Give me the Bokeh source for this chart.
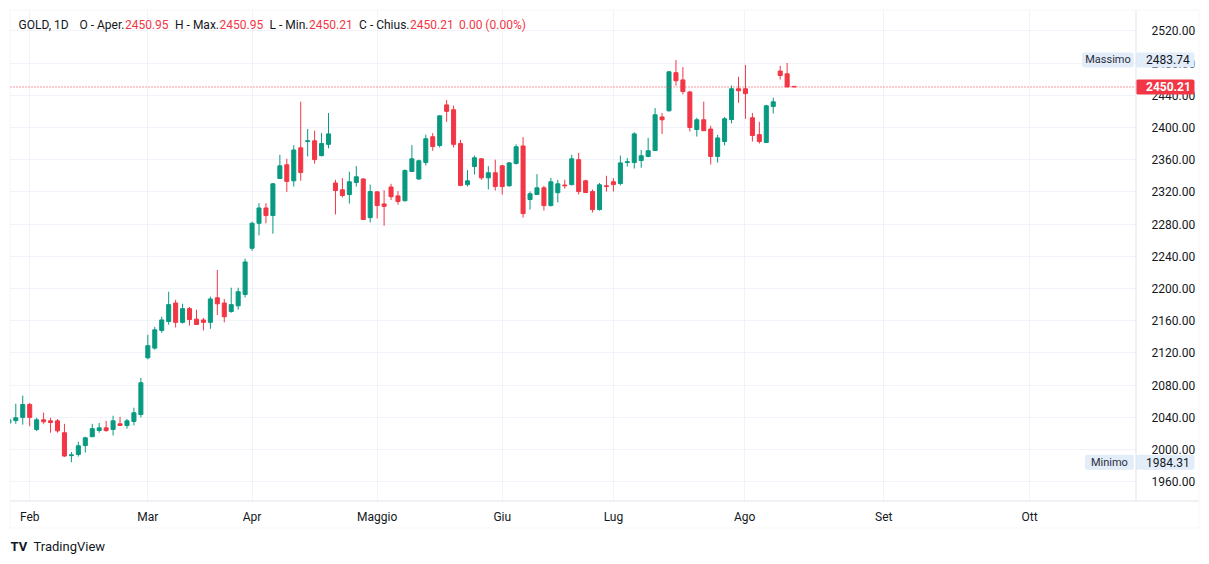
from bokeh.plotting import figure
from bokeh.models import (Range1d, FixedTicker, Label, BoxAnnotation,
                          ColumnDataSource, NumeralTickFormatter)
from bokeh.embed import file_html
from bokeh.resources import INLINE

# ---------------- data ----------------
symbol = "GOLD"
timeframe = "1D"
bar_index = list(range(-1, 113))
open_ = [2033, 2036, 2040, 2056, 2025, 2037, 2035.7, 2035.7, 2021, 1992.5,
         1994, 2005, 2016, 2023.7, 2027, 2025, 2032, 2030, 2035, 2043.6,
         2114, 2126, 2148, 2159, 2182, 2158, 2175, 2162, 2161, 2158,
         2188.5, 2182, 2171.4, 2178.5, 2192.6, 2250, 2281, 2300, 2290.6, 2336.6,
         2353.6, 2333.7, 2374.7, 2382.5, 2383.4, 2365, 2379, 2331, 2322.5, 2316.7,
         2331.6, 2336, 2288, 2320, 2305, 2326, 2315, 2309, 2345.3, 2336,
         2356.4, 2388.4, 2377.6, 2428, 2422, 2380, 2329, 2351.5, 2361, 2337.4,
         2343.7, 2352.3, 2327.5, 2355.2, 2377, 2310.5, 2316.7, 2325, 2303, 2319,
         2328.5, 2329, 2360, 2333.7, 2320.4, 2298, 2327.6, 2332.5, 2330.4, 2356.5,
         2356.4, 2359, 2364, 2371.3, 2413, 2420.6, 2468, 2459, 2444, 2397.4,
         2409.5, 2398, 2364, 2382.5, 2409.8, 2448, 2448, 2412, 2391, 2381.3,
         2426, 2470, 2466.6, 2450.95]
high = [2040, 2057, 2067, 2058, 2039.5, 2046, 2039.5, 2038, 2032, 1997,
        2009.7, 2016, 2032, 2033, 2035.7, 2042, 2040.7, 2038, 2052, 2089,
        2142.5, 2152.4, 2165, 2196, 2186, 2181, 2177, 2173.6, 2163.6, 2190,
        2223, 2187, 2201, 2201, 2237, 2283, 2306, 2306, 2331, 2366,
        2361, 2378, 2432, 2398, 2396, 2393, 2418, 2335, 2337, 2345,
        2352, 2337, 2329, 2321, 2322, 2330, 2321, 2348, 2378, 2360,
        2391, 2393, 2415, 2434, 2427, 2384.6, 2347, 2365, 2362, 2352,
        2360, 2353.6, 2357, 2379, 2388, 2320.4, 2342, 2327.5, 2337.4, 2335,
        2335, 2366, 2368.5, 2335, 2323, 2331, 2340, 2337, 2365, 2362,
        2394, 2372, 2387, 2424, 2418, 2470, 2483.74, 2475, 2445.5, 2412,
        2432, 2402, 2391, 2413, 2452, 2463, 2477.7, 2418, 2407, 2428,
        2437, 2476.5, 2480, 2450.95]
low = [2031, 2032, 2031, 2029, 2023, 2032, 2021, 2021, 1991, 1984.31,
       1991.4, 1996.4, 2016, 2021, 2022, 2017.5, 2029.5, 2026, 2030, 2040,
       2112, 2124, 2145, 2155, 2151.6, 2156.5, 2154, 2155, 2148, 2150,
       2167, 2158, 2170, 2173.6, 2189, 2247, 2266, 2281, 2268, 2336,
       2320, 2326.6, 2334, 2364, 2355, 2364, 2374, 2292, 2313, 2305.5,
       2326.6, 2285, 2282, 2287, 2278, 2310, 2304, 2308, 2345, 2335,
       2352.7, 2371, 2375, 2407, 2375, 2327, 2326.6, 2341.5, 2335, 2323,
       2321.7, 2316.7, 2326.6, 2354, 2288, 2298, 2316, 2296.8, 2301.8, 2306.8,
       2324, 2328, 2316.7, 2319, 2294.4, 2296.8, 2320.4, 2320.4, 2328, 2351.5,
       2349, 2350, 2363, 2371, 2392, 2420, 2452, 2441, 2395, 2388.7,
       2396, 2354, 2356.4, 2377.6, 2405, 2430.6, 2410.7, 2382.5, 2380, 2381,
       2417.3, 2459.5, 2450.21, 2450.21]
close = [2037, 2039.5, 2056, 2040, 2037, 2034.5, 2033.6, 2023.3, 1992, 1993.5,
         2004.7, 2014.6, 2026, 2027, 2023.7, 2035.7, 2030, 2035.7, 2045.7, 2083,
         2129, 2148.7, 2161, 2180, 2158, 2175, 2161.5, 2155.3, 2158, 2187,
         2181, 2165, 2180, 2196, 2233, 2281, 2300, 2290.6, 2330, 2352.3,
         2333, 2372, 2344, 2383.5, 2360, 2380, 2392, 2321.7, 2315.5, 2332.5,
         2338.7, 2285.7, 2320.4, 2303, 2302, 2314, 2308, 2346.5, 2361, 2358.6,
         2386, 2376.3, 2414.4, 2420, 2379, 2328, 2333.7, 2362.3, 2337.4, 2343.7,
         2326.6, 2326.6, 2356, 2376, 2293, 2317.6, 2325, 2303, 2332.5, 2330,
         2327.5, 2361, 2320.4, 2319.2, 2298, 2328.8, 2326.6, 2329, 2356, 2357.5,
         2392, 2364.8, 2371, 2415.7, 2409.5, 2469, 2458, 2444.6, 2400, 2409.5,
         2396, 2364, 2387, 2410.7, 2448, 2445.5, 2442, 2390, 2382.5, 2426.8,
         2431.8, 2464.5, 2450.21, 2450.21]

month_labels = ["Feb", "Mar", "Apr", "Maggio", "Giu", "Lug", "Ago", "Set", "Ott"]
month_ticks = [2, 19, 34, 52, 70, 86, 104.9, 124.9, 145.9]
price_ticks = list(range(1960, 2521, 40))

# ---------------- style / layout ----------------
GREEN = "#089981"
RED = "#F23645"
TEXT = "#131722"
GRID = "#F0F3FA"
BORDER = "#E0E3EB"
TAG = "#E3ECF9"
FONT = "Roboto"
W, H = 1209, 564

PX0, PXS = 15.3, 6.949            # pixel of bar 0, pixels per bar
Y_HI, YPP = 2545.19, 1.2416       # value at pixel row 10, value per pixel


def sx(px):
    return (px - PX0) / PXS


def sy(py):
    return Y_HI - (py - 10) * YPP


p = figure(width=W, height=H, output_backend="svg", toolbar_location=None,
           x_range=Range1d(sx(0), sx(W)), y_range=Range1d(sy(H), sy(0)),
           y_axis_location="right", min_border=0)
p.background_fill_color = "white"
p.border_fill_color = "white"
p.outline_line_color = None

p.xgrid.ticker = FixedTicker(ticks=month_ticks)
p.ygrid.ticker = FixedTicker(ticks=price_ticks)
p.grid.grid_line_color = GRID
p.grid.grid_line_width = 1

p.yaxis.ticker = FixedTicker(ticks=price_ticks)
p.yaxis.formatter = NumeralTickFormatter(format="0.00")
p.yaxis.major_tick_line_color = None
p.yaxis.minor_tick_line_color = None
p.yaxis.axis_line_color = None
p.yaxis.major_label_standoff = -64
p.yaxis.major_label_text_font = FONT
p.yaxis.major_label_text_font_size = "12px"
p.yaxis.major_label_text_color = TEXT

p.xaxis.ticker = FixedTicker(ticks=month_ticks)
p.xaxis.major_label_overrides = {t: l for t, l in zip(month_ticks, month_labels)}
p.xaxis.major_tick_line_color = None
p.xaxis.minor_tick_line_color = None
p.xaxis.axis_line_color = None
p.xaxis.major_label_standoff = -61
p.xaxis.major_label_text_font = FONT
p.xaxis.major_label_text_font_size = "12px"
p.xaxis.major_label_text_color = TEXT

# white covers keep grid lines inside the pane only
for l, r, t, b in ((1135.5, W, 0, H), (0, W, 500.5, H), (0, W, 0, 9.5)):
    p.add_layout(BoxAnnotation(left=sx(l), right=sx(r), top=sy(t), bottom=sy(b),
                               fill_color="white", fill_alpha=1, line_color=None,
                               level="underlay"))

# ---------------- candles ----------------
colors = [GREEN if c >= o else RED for o, c in zip(open_, close)]
src = ColumnDataSource(dict(
    x=bar_index, o=open_, h=high, l=low, c=close,
    top=[max(o, c) for o, c in zip(open_, close)],
    bottom=[min(o, c) for o, c in zip(open_, close)],
    color=colors))
p.segment(x0="x", y0="l", x1="x", y1="h", line_color="color", line_width=1, source=src)
p.vbar(x="x", width=0.58, top="top", bottom="bottom", fill_color="color",
       line_color="color", line_width=1, source=src)

last = close[-1]
p.segment(x0=[sx(10)], y0=[last], x1=[sx(1135)], y1=[last], line_color=RED,
          line_dash="1 2", line_width=1)

# left margin cover (bars scrolled off the pane) and frame lines
p.add_layout(BoxAnnotation(left=sx(0), right=sx(9.5), top=sy(0), bottom=sy(H),
                           fill_color="white", fill_alpha=1, line_color=None,
                           level="overlay"))
p.add_layout(BoxAnnotation(left=sx(9.5), right=sx(1198.5), top=sy(9.5), bottom=sy(527.5),
                           fill_alpha=0, line_color=BORDER, line_width=1, level="overlay"))
p.add_layout(BoxAnnotation(left=sx(10), right=sx(1198), top=sy(500), bottom=sy(501),
                           fill_color=BORDER, fill_alpha=1, line_color=None, level="overlay"))
p.add_layout(BoxAnnotation(left=sx(1135), right=sx(1136), top=sy(10), bottom=sy(500),
                           fill_color=BORDER, fill_alpha=1, line_color=None, level="overlay"))

# ---------------- price tags ----------------
half = 7.5 * YPP
hi_val = max(high)
lo_val = min(low)
for val, name, name_left in ((hi_val, "Massimo", 1081.7), (lo_val, "Minimo", 1084.5)):
    p.add_layout(BoxAnnotation(left=sx(name_left), right=sx(1133.3), top=val + half,
                               bottom=val - half, fill_color=TAG, fill_alpha=1,
                               line_color=None, border_radius=2))
    p.add_layout(BoxAnnotation(left=sx(1135.3), right=sx(1194), top=val + half,
                               bottom=val - half, fill_color=TAG, fill_alpha=1,
                               line_color=None, border_radius=2))
    p.add_layout(Label(x=sx((name_left + 1133.3) / 2), y=val, text=name,
                       text_align="center", text_baseline="middle",
                       text_font=FONT, text_font_size="11px", text_color="#2A2E39"))
    p.add_layout(Label(x=sx(1145.5), y=val, text=f"{val:.2f}",
                       text_align="left", text_baseline="middle",
                       text_font=FONT, text_font_size="12px", text_color=TEXT))

p.add_layout(BoxAnnotation(left=sx(1135.3), right=sx(1194), top=last + half,
                           bottom=last - half, fill_color=RED, fill_alpha=1,
                           line_color=None, border_radius=2))
p.add_layout(Label(x=sx(1145.5), y=last, text=f"{last:.2f}", text_align="left",
                   text_baseline="middle", text_font=FONT, text_font_size="12px",
                   text_font_style="bold", text_color="white"))

# ---------------- header legend ----------------
chg = close[-1] - close[-2]
pct = chg / close[-2] * 100
p.add_layout(Label(x=sx(18), y=sy(24), text=f"{symbol}, {timeframe}", text_align="left",
                   text_baseline="middle", text_font=FONT, text_font_size="12px",
                   text_color=TEXT))
pairs = [("O - Aper.", open_[-1], 124.4), ("H - Max.", high[-1], 219),
         ("L - Min.", low[-1], 308.5), ("C - Chius.", close[-1], 409.5)]
for name, v, px in pairs:
    p.add_layout(Label(x=sx(px - 0.5), y=sy(24), text=name, text_align="right",
                       text_baseline="middle", text_font=FONT, text_font_size="12px",
                       text_color=TEXT))
    p.add_layout(Label(x=sx(px), y=sy(24), text=f"{v:.2f}", text_align="left",
                       text_baseline="middle", text_font=FONT, text_font_size="12px",
                       text_color=RED))
p.add_layout(Label(x=sx(458.5), y=sy(24), text=f"{chg:.2f} ({pct:.2f}%)",
                   text_align="left", text_baseline="middle", text_font=FONT,
                   text_font_size="12px", text_color=RED))

# ---------------- logo ----------------
p.add_layout(Label(x=sx(10), y=sy(546), text="TV", text_align="left",
                   text_baseline="middle", text_font=FONT, text_font_size="13px",
                   text_font_style="bold", text_color=TEXT))
p.add_layout(Label(x=sx(33), y=sy(546), text="TradingView", text_align="left",
                   text_baseline="middle", text_font=FONT, text_font_size="13px",
                   text_color=TEXT))

open("out.html", "w").write(file_html(p, INLINE))
